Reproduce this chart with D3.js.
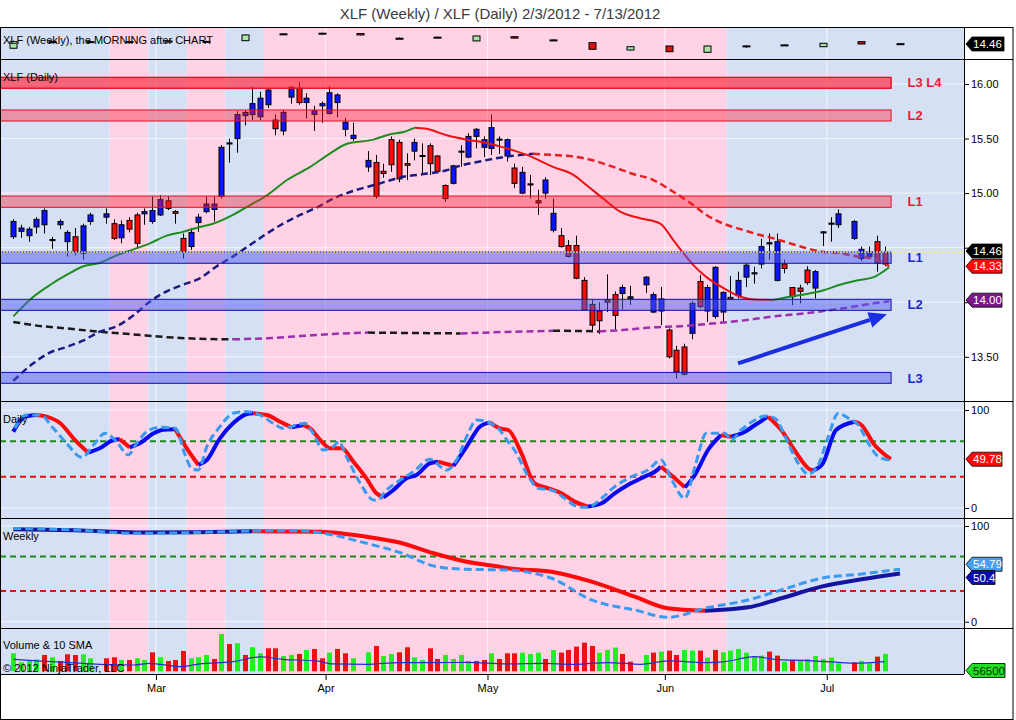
<!DOCTYPE html>
<meta charset="utf-8">
<style type="text/css">
  body { margin: 0; background: #fff; }
  svg text { font-family: "Liberation Sans", Arial, sans-serif; }
  .tick line { stroke: #000; }
  .tick text { font-size: 11px; fill: #000; }
</style>
<body>
</body>
<script src="https://d3js.org/d3.v7.min.js"></script>
<script>
  // XLF weekly / daily chart (NinjaTrader style), 2/3/2012 - 7/13/2012

  var startDate = "2012-02-03", endDate = "2012-07-11";
  var holidays = ["2012-02-20", "2012-04-06", "2012-05-28", "2012-07-04"];
  var monthStarts = ["2012-03-01", "2012-04-02", "2012-05-01", "2012-06-01", "2012-07-02"];

  // daily OHLC, one value per trading day
  var opens = [
    14.60, 14.65, 14.61, 14.69, 14.71, 14.565, 14.71, 14.555, 14.60, 14.45, 14.74,
    14.78, 14.72, 14.59, 14.75, 14.80, 14.81, 14.74, 14.80, 14.93, 14.83, 14.585, 14.51, 14.73, 14.83, 14.85, 14.97,
    15.45, 15.50, 15.71, 15.72, 15.70, 15.81, 15.67, 15.57, 15.88, 15.96, 15.83, 15.72, 15.80, 15.73, 15.83, 15.585, 15.50,
    15.24, 15.28, 15.20, 15.49, 15.465, 15.27, 15.385, 15.335, 15.435, 15.34, 15.07, 15.09, 15.375, 15.33, 15.52, 15.42,
    15.41, 15.485, 15.34, 15.23, 15.00, 15.085, 14.93, 15.00, 14.66, 14.61, 14.52, 14.52, 14.20, 13.98, 13.92, 14.02, 14.07, 14.08, 14.035,
    14.16, 13.91, 13.92, 13.745, 13.56, 13.59, 13.715, 14.19, 13.92, 13.87, 13.91, 14.045, 14.06, 14.23, 14.26, 14.35,
    14.535, 14.20, 14.35, 14.135, 14.13, 14.295, 14.13, 14.635, 14.715, 14.71,
    14.585, 14.40, 14.42, 14.555, 14.455
  ];
  var highs = [
    14.76, 14.71, 14.69, 14.78, 14.86, 14.60, 14.76, 14.66, 14.68, 14.72, 14.82,
    14.86, 14.76, 14.75, 14.78, 14.82, 14.86, 14.97, 14.98, 14.97, 14.845, 14.63, 14.68, 14.81, 14.97, 14.97, 15.44,
    15.50, 15.75, 15.76, 15.975, 15.93, 15.96, 15.72, 15.76, 15.98, 16.02, 15.915, 15.80, 15.84, 15.98, 15.915, 15.69, 15.645,
    15.385, 15.35, 15.27, 15.52, 15.49, 15.365, 15.50, 15.456, 15.456, 15.35, 15.08, 15.26, 15.44, 15.55, 15.595, 15.52,
    15.72, 15.52, 15.50, 15.27, 15.24, 15.166, 15.03, 15.145, 14.95, 14.68, 14.57, 14.61, 14.23, 14.02, 14.00, 14.255, 14.10, 14.16, 14.15,
    14.24, 14.09, 14.14, 13.76, 13.60, 13.62, 14.01, 14.25, 14.16, 14.33, 14.10, 14.24, 14.28, 14.36, 14.325, 14.58,
    14.63, 14.63, 14.39, 14.14, 14.16, 14.33, 14.295, 14.65, 14.78, 14.85,
    14.755, 14.51, 14.51, 14.61, 14.51
  ];
  var lows = [
    14.58, 14.59, 14.555, 14.63, 14.63, 14.49, 14.67, 14.42, 14.43, 14.39, 14.71,
    14.72, 14.57, 14.54, 14.64, 14.49, 14.71, 14.72, 14.79, 14.845, 14.72, 14.40, 14.48, 14.645, 14.815, 14.74, 14.95,
    15.28, 15.37, 15.62, 15.67, 15.67, 15.78, 15.53, 15.53, 15.82, 15.81, 15.685, 15.57, 15.645, 15.72, 15.695, 15.52, 15.48,
    15.195, 14.95, 15.14, 15.195, 15.10, 15.12, 15.30, 15.166, 15.166, 15.19, 14.92, 15.08, 15.24, 15.32, 15.41, 15.33,
    15.35, 15.36, 15.29, 15.045, 14.99, 14.95, 14.80, 14.95, 14.64, 14.50, 14.41, 14.21, 13.93, 13.73, 13.71, 13.91, 13.75, 13.93, 13.975,
    14.085, 13.90, 13.79, 13.485, 13.30, 13.33, 13.66, 13.945, 13.82, 13.85, 13.81, 14.02, 14.035, 14.14, 14.17, 14.31,
    14.39, 14.19, 14.265, 13.975, 13.99, 14.16, 14.035, 14.515, 14.555, 14.68,
    14.57, 14.38, 14.40, 14.28, 14.33
  ];
  var closes = [
    14.74, 14.68, 14.67, 14.76, 14.84, 14.575, 14.74, 14.64, 14.46, 14.70, 14.80,
    14.81, 14.585, 14.71, 14.67, 14.54, 14.83, 14.84, 14.94, 14.86, 14.815, 14.46, 14.64, 14.78, 14.90, 14.90, 15.42,
    15.46, 15.72, 15.74, 15.82, 15.87, 15.945, 15.59, 15.74, 15.97, 15.83, 15.87, 15.755, 15.82, 15.92, 15.90, 15.65, 15.53,
    15.30, 14.97, 15.18, 15.26, 15.13, 15.255, 15.465, 15.345, 15.27, 15.20, 14.95, 15.25, 15.385, 15.52, 15.585, 15.49,
    15.60, 15.495, 15.49, 15.09, 15.19, 15.075, 14.91, 15.12, 14.815, 14.51, 14.42, 14.22, 13.93, 13.79, 13.83, 14.00, 13.88, 14.135, 14.05,
    14.23, 14.07, 14.03, 13.50, 13.36, 13.34, 13.99, 13.96, 14.135, 14.32, 14.09, 14.03, 14.20, 14.34, 14.27, 14.51,
    14.545, 14.555, 14.31, 14.05, 14.10, 14.18, 14.28, 14.645, 14.725, 14.81,
    14.74, 14.485, 14.46, 14.36, 14.35
  ];
  // volume (thousands) and bar colour (1 = green, 0 = red)
  var volumes = [
    58100, 29000, 33400, 38700, 52700, 45200, 33400, 54900, 52700, 54900, 42000,
    42000, 45200, 36600, 36600, 42000, 36600, 61300, 45200, 33400, 36600, 65600, 42000, 45200, 52700, 39800, 120500,
    88200, 90400, 52700, 77500, 58100, 74200, 74200, 49500, 52700, 56000, 68900, 72100, 42000, 60300, 72100, 58100, 42000,
    61300, 81800, 49500, 56000, 61300, 77500, 45200, 36600, 74200, 39800, 52700, 39800, 52700, 33400, 33400, 36600,
    58100, 39800, 58100, 58100, 60300, 55900, 60300, 39800, 68900, 60300, 68900, 79600, 92500, 81800, 60300, 68900, 76400, 55900, 31200,
    52700, 60300, 63500, 66700, 52700, 68900, 66700, 66700, 44100, 68900, 61300, 66700, 72100, 60300, 47300, 50600,
    63500, 50600, 31200, 36600, 36600, 39800, 49500, 39800, 44100, 25800,
    29100, 33400, 25800, 47300, 56500
  ];
  var volumeUp = [
    1, 1, 1, 1, 0, 1, 0, 0, 0, 1, 1,
    0, 0, 1, 0, 1, 1, 0, 1, 0, 0, 0, 1, 1, 1, 0, 1,
    0, 1, 0, 1, 1, 0, 0, 1, 1, 0, 1, 0, 0, 1, 0, 0, 1,
    1, 0, 1, 1, 0, 0, 1, 1, 0, 0, 1, 1, 1, 1, 0, 0,
    1, 0, 0, 0, 1, 1, 1, 0, 1, 0, 0, 0, 0, 0, 1, 1, 1, 0, 0,
    1, 0, 1, 0, 0, 1, 1, 0, 1, 0, 1, 1, 1, 1, 1, 1,
    0, 0, 1, 0, 1, 1, 1, 1, 1, 1,
    0, 1, 1, 0, 1
  ];

  // moving averages: [weekday slot, price]
  var fastMA = [[0, 13.87], [2.6, 14.05], [4.8, 14.16], [6.9, 14.25], [9.1, 14.33], [11.2, 14.36], [13.4, 14.43],
    [15.6, 14.485], [17.7, 14.54], [19.9, 14.61], [22, 14.645], [24.2, 14.69], [25.9, 14.72], [28.5, 14.80], [30.7, 14.89],
    [32.9, 14.98], [35.5, 15.12], [38.5, 15.24], [41.1, 15.365], [43.2, 15.45], [46.7, 15.49], [48.9, 15.54], [50.6, 15.56],
    [52.1, 15.60], [53.6, 15.59], [56.2, 15.53], [58.8, 15.49], [61.4, 15.46], [64, 15.41], [66.6, 15.35], [70, 15.24],
    [72.6, 15.17], [74.4, 15.07], [76.5, 14.95], [78.7, 14.83], [81.3, 14.77], [83.9, 14.72], [85.6, 14.57], [86.9, 14.45],
    [88.2, 14.34], [89.9, 14.23], [92.1, 14.13], [94.3, 14.05], [96, 14.025], [98.6, 14.02], [100.7, 14.05], [102.9, 14.075],
    [105.1, 14.11], [107.2, 14.16], [109.4, 14.20], [111.6, 14.23], [113.6, 14.32]];
  var midMA = [[0, 13.28], [2.6, 13.44], [4.8, 13.54], [6.9, 13.59], [9.1, 13.65], [11.2, 13.73], [13.4, 13.78],
    [15.6, 13.88], [17.7, 14.005], [19.9, 14.10], [22, 14.16], [24.2, 14.22], [26.4, 14.33], [28.5, 14.42], [30.7, 14.525],
    [32.9, 14.63], [35, 14.72], [37.2, 14.80], [39.4, 14.87], [41.5, 14.95], [44.1, 15.02], [47.1, 15.08], [50.6, 15.15],
    [52.7, 15.17], [56.2, 15.21], [57.9, 15.25], [60.5, 15.29], [63.1, 15.325], [65.7, 15.35], [67.4, 15.36], [70, 15.35],
    [72.6, 15.335], [75.2, 15.30], [77.8, 15.24], [80.4, 15.175], [83, 15.12], [85.2, 15.03], [87.8, 14.91], [89.9, 14.80],
    [92.1, 14.72], [94.3, 14.67], [96.4, 14.625], [98.6, 14.585], [100.7, 14.54], [102.9, 14.495], [105.1, 14.46],
    [107.2, 14.45], [109.4, 14.42], [111.6, 14.40], [113.6, 14.33]];
  var slowMA = [[0, 13.82], [2.6, 13.79], [6.9, 13.76], [11.2, 13.73], [15.6, 13.705], [19.9, 13.68], [24.2, 13.665],
    [28.5, 13.66], [32.9, 13.67], [37.2, 13.69], [41.5, 13.71], [46, 13.722], [52, 13.718], [58, 13.714], [64, 13.728],
    [70, 13.738], [73, 13.737], [76, 13.732], [79, 13.745], [83, 13.77], [86.5, 13.78], [89.9, 13.80], [94.3, 13.83],
    [98.6, 13.87], [102.9, 13.90], [107.2, 13.94], [111.6, 13.99], [113.6, 14.01]];

  // support / resistance zones
  var levelNames = ["L3", "L4", "L2", "L1", "L1", "L2", "L3"];
  var levelLow = [15.961, 15.961, 15.661, 14.870, 14.357, 13.926, 13.257];
  var levelHigh = [16.061, 16.061, 15.762, 14.973, 14.460, 14.027, 13.357];
  var levelSide = ["r", "r", "r", "r", "b", "b", "b"];

  var lastClose = 14.46;
  var trendArrow = [[94, 13.44], [113.3, 13.89]];

  // weekly candles (one every five weekday slots)
  var wOpen = [13.85, 14.77, 14.80, 14.78, 14.72, 14.80, 14.93, 15.87, 15.96, 15.96, 15.28, 15.40,
    14.90, 15.50, 15.04, 14.65, 13.60, 14.17, 13.27, 14.16, 14.30, 14.07, 14.79, 14.50];
  var wHigh = [14.95, 14.86, 14.85, 14.86, 14.95, 14.90, 15.82, 15.98, 16.05, 16.00, 15.40, 15.50,
    15.65, 15.55, 15.12, 14.70, 14.12, 14.22, 14.20, 14.25, 14.38, 14.60, 14.85, 14.56];
  var wLow = [13.80, 14.70, 14.72, 14.70, 14.68, 14.74, 14.88, 15.78, 15.90, 15.70, 15.18, 15.32,
    14.85, 15.25, 14.95, 13.65, 13.55, 13.30, 13.22, 13.90, 14.25, 14.03, 14.42, 14.40];
  var wClose = [14.79, 14.80, 14.78, 14.80, 14.90, 14.83, 15.75, 15.91, 16.00, 15.75, 15.25, 15.43,
    15.60, 15.30, 15.01, 13.70, 14.07, 13.36, 14.17, 14.19, 14.33, 14.56, 14.46, 14.46];

  // stochastics: [weekday slot, value]
  var dStochD = [[0, 77.9], [1.5, 93.2], [3, 94.9], [4.3, 93.2], [6.1, 86.4], [7.8, 71.1], [9.7, 56.5], [11.2, 60.9],
    [13, 69.4], [13.8, 70.1], [15.1, 61.9], [16.4, 66], [18.2, 76.2], [19.5, 79.8], [21, 80.3], [22.5, 60.9], [24, 43.9],
    [25.1, 49], [26.8, 71.1], [28.5, 86.4], [30.3, 95.9], [31.1, 96.6], [32.9, 94.9], [34.6, 88], [36.1, 82.3], [37.6, 84.7],
    [38.5, 81.3], [39.8, 69.4], [41.1, 60.9], [42.6, 60.9], [44.1, 47.3], [45.8, 30.3], [47.1, 15], [48, 10.9], [49.3, 18.4],
    [51, 30.3], [52.3, 33.7], [54, 45.6], [55.1, 47.3], [57.1, 42.9], [58.8, 62.6], [60.5, 83], [61.8, 87.4], [63.1, 81.3],
    [64.2, 79.6], [65.9, 55.8], [67.6, 25.2], [69.4, 20.1], [71.1, 15], [72.8, 6.5], [74.5, 1.4], [76.3, 4.8], [78, 15],
    [79.7, 23.5], [81.9, 32], [83.2, 37], [84, 42.2], [85.3, 33.7], [87.1, 21.1], [88.4, 33.7], [90.1, 59.2], [91.8, 74.5],
    [93.1, 72.8], [94.9, 77.9], [96.2, 84.7], [97.9, 93.2], [99.6, 79.6], [101.3, 59.2], [103.1, 40.5], [103.7, 38.1],
    [105, 45.6], [106.7, 79.6], [109.1, 88], [110, 84.7], [111.7, 64.3], [112.8, 55.8], [113.8, 49.78]];
  var dStochK = [[0.2, 81.3], [1.7, 94.9], [3.5, 94.9], [5.2, 81.3], [6.9, 66], [8.9, 51.7], [10.4, 64.3], [11.9, 76.2],
    [13.4, 67.7], [14.9, 54.1], [16, 66], [17.3, 77.9], [19, 82.3], [21, 81.3], [22.3, 54.1], [23.1, 40.5], [24, 38.8],
    [25.1, 62.6], [26.8, 83], [28.5, 96.6], [30.3, 98.3], [32, 94.9], [33.7, 86.4], [35, 81.3], [36.3, 83.7], [37.8, 86.4],
    [38.9, 76.2], [40.2, 59.2], [41.5, 62.6], [42.2, 67.7], [43.2, 52.4], [45, 25.2], [46.7, 8.2], [47.2, 8], [48.4, 18.4],
    [50.2, 28.6], [51.9, 37], [54, 49.7], [56.2, 38.8], [57.5, 49], [58.8, 72.8], [60.1, 89.8], [61.4, 88], [63.1, 79.6],
    [64, 69.4], [65, 59.2], [66.8, 32], [68.1, 20.1], [69.8, 18.4], [71.5, 9.9], [73.2, 1.4], [74.5, 0.7], [76.3, 9.9],
    [78, 21.8], [80.2, 32], [82.3, 38.8], [84, 49], [85.4, 28.6], [87.1, 9.9], [88.4, 42.2], [89.9, 76.2], [92.3, 76.2],
    [93.1, 69.4], [94.4, 79.6], [96.2, 89.8], [97.5, 93.9], [98.8, 91.5], [100.1, 72.8], [101.8, 45.6], [103.1, 34.7],
    [104.4, 43.9], [105.7, 72.8], [107, 96.6], [108.3, 91.5], [109.6, 84.7], [110.9, 66], [112.2, 52.4], [113.6, 49]];
  var wStochD = [[0, 96.5], [8, 95.5], [16, 93.3], [24, 93.6], [31, 94.6], [39.8, 94], [45.8, 88.8], [50.2, 82.5],
    [54.5, 71.5], [58.8, 62.7], [63.1, 57.5], [64.2, 55.8], [69.8, 52.2], [75, 41.8], [80.6, 26.1], [84.9, 14], [89.7, 11.5],
    [95.3, 15], [99.6, 24.5], [104.8, 36.6], [110, 44.3], [115, 50.4]];
  var wStochK = [[0, 97.5], [8, 95.8], [16, 92.4], [24, 93.2], [31, 94.8], [37.2, 95.1], [40.2, 92.4], [45.8, 81.9],
    [50.2, 72.1], [54.9, 57.5], [58.8, 54.8], [64, 54], [69.8, 45.4], [75, 22.7], [80.6, 12.2], [84.9, 4.6], [89.7, 14],
    [95.3, 22.7], [99.6, 33.1], [104.8, 45.4], [110, 49.8], [115, 54.79]];
  var wStochTurns = [[0, "up"], [31, "down"], [89.7, "up"]];
  var stochLevels = [68, 32];

  var volumeSMA = [[0, 38700], [2.6, 34400], [6.9, 29000], [11.2, 22600], [15.6, 20400], [17.7, 25800], [21.6, 15100],
    [24.2, 23700], [28.5, 31200], [32, 46300], [35, 38700], [39.3, 33400], [41.5, 23700], [45.8, 22600], [50.2, 28000],
    [54.5, 28000], [58.8, 29000], [64, 23700], [68.5, 25800], [72.8, 22600], [77.1, 28000], [81.4, 22600], [84.9, 33400],
    [90.1, 28000], [92.3, 31200], [96.1, 47300], [98.7, 38700], [103.1, 34400], [107.4, 28000], [109.1, 25800], [113, 31200]];

  var priceTicks = [13.5, 14, 14.5, 15, 15.5, 16];
  var shadeBreaks = [12.5, 17.5, 22.5, 27.5, 32.5, 92.5];

  // ---------- layout ----------
  var plotRight = 964, frameRight = 1013;
  var panels = {
    week: { top: 27, bottom: 59 },
    main: { top: 59, bottom: 401 },
    dsto: { top: 401, bottom: 518 },
    wsto: { top: 518, bottom: 628 },
    vol: { top: 628, bottom: 674 }
  };
  var pink = "#ffd2e6", blue = "#d6e0f5";

  var x = d3.scaleLinear().domain([-1.725, 123.3]).range([0, plotRight]);
  var yMain = d3.scaleLinear().domain([13.5, 16]).range([356.8, 84]);
  var yWeek = d3.scaleLinear().domain([13.5, 16]).range([50.7, 33.2]);
  var yDS = d3.scaleLinear().domain([0, 100]).range([508, 410]);
  var yWS = d3.scaleLinear().domain([0, 100]).range([621.7, 526]);
  var yVol = d3.scaleLinear().domain([0, 100000]).range([671.3, 640.3]);

  // weekday slots
  var parse = d3.timeParse("%Y-%m-%d"), fmt = d3.timeFormat("%Y-%m-%d");
  var weekdays = d3.timeDay.range(parse(startDate), d3.timeDay.offset(parse(endDate), 1))
    .filter(function(d) { return d.getDay() > 0 && d.getDay() < 6; });
  var slotOf = {};
  weekdays.forEach(function(d, i) { slotOf[fmt(d)] = i; });
  var tradingSlots = weekdays.map(function(d, i) { return i; })
    .filter(function(i) { return holidays.indexOf(fmt(weekdays[i])) < 0; });

  var candles = tradingSlots.map(function(s, i) {
    return { slot: s, o: opens[i], h: highs[i], l: lows[i], c: closes[i], v: volumes[i], up: volumeUp[i] };
  });
  var weekly = wOpen.map(function(o, i) {
    return { slot: i * 5, o: o, h: wHigh[i], l: wLow[i], c: wClose[i] };
  });
  var monthTicks = monthStarts.map(function(d) {
    return { slot: slotOf[d] - 0.5, label: d3.timeFormat("%b")(parse(d)) };
  });

  var svg = d3.select("body").append("svg")
    .attr("width", 1016)
    .attr("height", 720);
  var defs = svg.append("defs");

  // title
  svg.append("text")
    .attr("x", 500).attr("y", 19)
    .attr("text-anchor", "middle")
    .style("font-size", "15px")
    .attr("fill", "#3a3a3a")
    .text("XLF (Weekly) / XLF (Daily)  2/3/2012 - 7/13/2012");

  var edges = [x.domain()[0]].concat(shadeBreaks, [x.domain()[1]]);
  var shadeSpans = d3.pairs(edges).map(function(p, i) {
    return { a: p[0], b: p[1], fill: i % 2 ? pink : blue };
  });

  function makePanel(name) {
    var p = panels[name];
    defs.append("clipPath").attr("id", "clip-" + name)
      .append("rect").attr("x", 0).attr("y", p.top).attr("width", plotRight).attr("height", p.bottom - p.top);
    var g = svg.append("g").attr("clip-path", "url(#clip-" + name + ")");
    g.selectAll(".shade").data(shadeSpans).join("rect")
      .attr("x", function(d) { return x(d.a); })
      .attr("width", function(d) { return x(d.b) - x(d.a); })
      .attr("y", p.top).attr("height", p.bottom - p.top)
      .attr("fill", function(d) { return d.fill; });
    g.selectAll(".vgrid").data(monthTicks).join("line")
      .attr("x1", function(d) { return x(d.slot); })
      .attr("x2", function(d) { return x(d.slot); })
      .attr("y1", p.top).attr("y2", p.bottom)
      .attr("stroke", "#fff").attr("stroke-opacity", 0.7);
    return g;
  }

  function hgrid(g, ticks, y) {
    g.selectAll(null).data(ticks).join("line")
      .attr("x1", 0).attr("x2", plotRight)
      .attr("y1", function(d) { return y(d); })
      .attr("y2", function(d) { return y(d); })
      .attr("stroke", "#fff").attr("stroke-opacity", 0.7);
  }

  // split a series into runs of the same colour
  function colourRuns(pts, colourOf) {
    var out = [];
    for (var i = 1; i < pts.length; i++) {
      var c = colourOf(pts[i - 1], pts[i]);
      var last = out[out.length - 1];
      if (last && last.colour === c) last.pts.push(pts[i]);
      else out.push({ colour: c, pts: [pts[i - 1], pts[i]] });
    }
    return out;
  }

  function drawRuns(g, runs, y, width, dash) {
    var line = d3.line()
      .x(function(d) { return x(d[0]); })
      .y(function(d) { return y(d[1]); })
      .curve(d3.curveMonotoneX);
    g.selectAll(null).data(runs).join("path")
      .attr("d", function(d) { return line(d.pts); })
      .attr("fill", "none")
      .attr("stroke", function(d) { return d.colour; })
      .attr("stroke-width", width)
      .attr("stroke-dasharray", dash || null)
      .attr("stroke-linejoin", "round");
  }

  function bySlope(up, down) {
    return function(a, b) { return b[1] > a[1] ? up : down; };
  }

  function drawCandles(g, data, y, w, upFill, downFill) {
    var c = g.selectAll(null).data(data).join("g");
    c.append("line")
      .attr("x1", function(d) { return Math.round(x(d.slot)) + 0.5; })
      .attr("x2", function(d) { return Math.round(x(d.slot)) + 0.5; })
      .attr("y1", function(d) { return y(d.h); })
      .attr("y2", function(d) { return y(d.l); })
      .attr("stroke", "#000");
    c.append("rect")
      .attr("x", function(d) { return Math.round(x(d.slot)) + 0.5 - w / 2; })
      .attr("width", w)
      .attr("y", function(d) { return y(Math.max(d.o, d.c)); })
      .attr("height", function(d) { return Math.max(1, Math.abs(y(d.o) - y(d.c))); })
      .attr("fill", function(d) { return d.c >= d.o ? upFill : downFill; })
      .attr("stroke", "#000").attr("stroke-width", 1);
  }

  // ---------- weekly panel ----------
  var gw = makePanel("week");
  drawCandles(gw, weekly, yWeek, 7, "#a8e6a8", "#e01010");

  // ---------- main daily panel ----------
  var gm = makePanel("main");
  hgrid(gm, priceTicks, yMain);
  drawCandles(gm, candles, yMain, 5, "#0a14ff", "#ff0a0a");

  drawRuns(gm, colourRuns(slowMA, bySlope("#9b2fae", "#1a1a1a")), yMain, 2.5, "7,4");
  drawRuns(gm, colourRuns(midMA, bySlope("#1a1a80", "#e52020")), yMain, 2.5, "7,4");
  drawRuns(gm, colourRuns(fastMA, bySlope("#1e8c1e", "#ee1111")), yMain, 2);

  var levels = levelNames.map(function(n, i) {
    return { name: n, lo: levelLow[i], hi: levelHigh[i], side: levelSide[i] };
  });
  var lastSlot = tradingSlots[tradingSlots.length - 1];
  var bandEnd = x(lastSlot) + 6;
  gm.selectAll(".band").data(levels).join("rect")
    .attr("x", 0.5)
    .attr("width", bandEnd)
    .attr("y", function(d) { return yMain(d.hi); })
    .attr("height", function(d) { return yMain(d.lo) - yMain(d.hi); })
    .attr("fill", function(d) { return d.side === "r" ? "rgba(255,30,50,0.4)" : "rgba(80,90,240,0.5)"; })
    .attr("stroke", function(d) { return d.side === "r" ? "#e01020" : "#1010b0"; });

  var labelGroups = Array.from(d3.group(levels, function(d) { return d.side + d.lo; }).values());
  gm.selectAll(".blabel").data(labelGroups).join("text")
    .attr("x", bandEnd + 17)
    .attr("y", function(d) { return yMain((d[0].lo + d[0].hi) / 2); })
    .attr("dy", "0.36em")
    .style("font-size", "13px").style("font-weight", "bold")
    .attr("fill", function(d) { return d[0].side === "r" ? "#e8202e" : "#2028c8"; })
    .text(function(d) { return d.map(function(e) { return e.name; }).join(" "); });

  gm.append("line")
    .attr("x1", 0).attr("x2", plotRight)
    .attr("y1", yMain(lastClose)).attr("y2", yMain(lastClose))
    .attr("stroke", "#f4f070").attr("stroke-width", 1.2).attr("stroke-dasharray", "2,1");

  // trend arrow
  var a0 = [x(trendArrow[0][0]), yMain(trendArrow[0][1])];
  var a1 = [x(trendArrow[1][0]), yMain(trendArrow[1][1])];
  var ang = Math.atan2(a1[1] - a0[1], a1[0] - a0[0]);
  var base = [a1[0] - 18 * Math.cos(ang), a1[1] - 18 * Math.sin(ang)];
  var nx = -Math.sin(ang) * 8, ny = Math.cos(ang) * 8;
  gm.append("line")
    .attr("x1", a0[0]).attr("y1", a0[1]).attr("x2", base[0]).attr("y2", base[1])
    .attr("stroke", "#1b2fe0").attr("stroke-width", 4);
  gm.append("path")
    .attr("d", "M" + a1 + "L" + [base[0] + nx, base[1] + ny] + "L" + [base[0] - nx, base[1] - ny] + "Z")
    .attr("fill", "#1b2fe0");

  // ---------- daily stochastic ----------
  var gd = makePanel("dsto");
  hgrid(gd, [0, 100], yDS);
  gd.selectAll(null).data(stochLevels).join("line")
    .attr("x1", 0).attr("x2", plotRight)
    .attr("y1", function(d) { return yDS(d); }).attr("y2", function(d) { return yDS(d); })
    .attr("stroke", function(d, i) { return i ? "#dd1111" : "#1a8a1a"; })
    .attr("stroke-width", 2).attr("stroke-dasharray", "6,4");
  drawRuns(gd, colourRuns(dStochD, bySlope("#0a0af0", "#ff0a0a")), yDS, 4);
  drawRuns(gd, [{ colour: "#3a9af0", pts: dStochK }], yDS, 3, "8,4");

  // ---------- weekly stochastic ----------
  var gs = makePanel("wsto");
  hgrid(gs, [0, 100], yWS);
  gs.selectAll(null).data(stochLevels).join("line")
    .attr("x1", 0).attr("x2", plotRight)
    .attr("y1", function(d) { return yWS(d); }).attr("y2", function(d) { return yWS(d); })
    .attr("stroke", function(d, i) { return i ? "#dd1111" : "#1a8a1a"; })
    .attr("stroke-width", 2).attr("stroke-dasharray", "6,4");
  function weeklyTrend(a) {
    var t = "up";
    wStochTurns.forEach(function(w) { if (a[0] >= w[0]) t = w[1]; });
    return t;
  }
  drawRuns(gs, colourRuns(wStochD, function(a) { return weeklyTrend(a) === "up" ? "#1414a0" : "#ff0a0a"; }), yWS, 4);
  drawRuns(gs, [{ colour: "#3a9af0", pts: wStochK }], yWS, 3, "8,4");

  // ---------- volume ----------
  var gv = makePanel("vol");
  gv.selectAll(null).data(candles).join("rect")
    .attr("x", function(d) { return Math.round(x(d.slot)) - 2; })
    .attr("width", 5)
    .attr("y", function(d) { return yVol(d.v); })
    .attr("height", function(d) { return yVol(0) - yVol(d.v); })
    .attr("fill", function(d) { return d.up ? "#22ee22" : "#ee1111"; });
  gv.append("path")
    .attr("d", d3.line().x(function(d) { return x(d[0]); }).y(function(d) { return yVol(d[1]); }).curve(d3.curveMonotoneX)(volumeSMA))
    .attr("fill", "none").attr("stroke", "#2a2ad0").attr("stroke-width", 1.2);

  // ---------- panel captions ----------
  var captions = [
    ["XLF (Weekly), the MORNING after CHART", 44],
    ["XLF (Daily)", 81],
    ["Daily", 423],
    ["Weekly", 540],
    ["Volume & 10 SMA", 649],
    ["\u00a9 2012 NinjaTrader, LLC", 672]
  ];
  svg.selectAll(".cap").data(captions).join("text")
    .attr("x", 3).attr("y", function(d) { return d[1]; })
    .style("font-size", "11px").attr("fill", "#000")
    .text(function(d) { return d[0]; });

  // ---------- value tags (the price labels they cover are left blank) ----------
  var lastD = dStochD[dStochD.length - 1][1];
  var lastWK = wStochK[wStochK.length - 1][1];
  var lastWD = wStochD[wStochD.length - 1][1];
  var lastMid = midMA[midMA.length - 1][1];
  var lastSlow = slowMA[slowMA.length - 1][1];
  var mainTags = [yMain(lastClose) - 1, yMain(lastMid), yMain(lastSlow)];

  // ---------- axes ----------
  var f2 = d3.format(".2f");
  svg.append("g").attr("transform", "translate(" + plotRight + ",0)")
    .call(d3.axisRight(yMain).tickValues(priceTicks).tickSize(5).tickPadding(2)
      .tickFormat(function(d) {
        var hidden = mainTags.some(function(t) { return Math.abs(t - yMain(d)) < 8; });
        return hidden ? "" : f2(d);
      }))
    .call(function(g) { g.select(".domain").remove(); });
  svg.append("g").attr("transform", "translate(" + plotRight + ",0)")
    .call(d3.axisRight(yDS).tickValues([0, 100]).tickSize(5).tickPadding(2))
    .call(function(g) { g.select(".domain").remove(); });
  svg.append("g").attr("transform", "translate(" + plotRight + ",0)")
    .call(d3.axisRight(yWS).tickValues([0, 100]).tickSize(5).tickPadding(2))
    .call(function(g) { g.select(".domain").remove(); });
  svg.append("g").attr("transform", "translate(0," + panels.vol.bottom + ")")
    .call(d3.axisBottom(x).tickValues(monthTicks.map(function(d) { return d.slot; }))
      .tickFormat(function(d, i) { return monthTicks[i].label; }).tickSize(6).tickPadding(4))
    .call(function(g) { g.select(".domain").remove(); });

  // ---------- frame ----------
  var frame = svg.append("g").attr("stroke", "#000").attr("stroke-width", 1);
  [panels.week.top, panels.main.top, panels.dsto.top, panels.wsto.top, panels.vol.top].forEach(function(y) {
    frame.append("line").attr("x1", 0).attr("x2", frameRight).attr("y1", y + 0.5).attr("y2", y + 0.5);
  });
  frame.append("line").attr("x1", 0).attr("x2", plotRight).attr("y1", panels.vol.bottom + 0.5).attr("y2", panels.vol.bottom + 0.5);
  frame.append("line").attr("x1", plotRight + 0.5).attr("x2", plotRight + 0.5).attr("y1", panels.week.top).attr("y2", panels.vol.bottom);
  frame.append("rect").attr("x", 0.5).attr("y", panels.week.top + 0.5)
    .attr("width", frameRight - 0.5).attr("height", 719 - panels.week.top).attr("fill", "none");

  function tag(y, txt, fill, ink, w) {
    var g = svg.append("g");
    g.append("path")
      .attr("d", "M966," + y + "L972," + (y - 7) + "L" + (966 + w) + "," + (y - 7) + "L" + (966 + w) + "," + (y + 7) + "L972," + (y + 7) + "Z")
      .attr("fill", fill).attr("stroke", "#000").attr("stroke-width", 0.8);
    g.append("text").attr("x", 973).attr("y", y).attr("dy", "0.36em")
      .style("font-size", "11.5px").attr("fill", ink).text(txt);
  }
  tag(yWeek(lastClose), f2(lastClose), "#000", "#fff", 38);
  tag(mainTags[0], f2(lastClose), "#000", "#fff", 36);
  tag(mainTags[1], f2(lastMid), "#ff0a0a", "#fff", 36);
  tag(mainTags[2] - 1, f2(lastSlow - 0.01), "#7a1a8a", "#fff", 36);
  tag(yDS(lastD), f2(lastD), "#ff0a0a", "#fff", 36);
  // the two weekly tags sit on top of each other in the original; spread them just enough to stay readable
  tag(yWS(lastWK) - 5, f2(lastWK), "#4aa0f0", "#fff", 36);
  tag(yWS(lastWD) + 4, String(lastWD), "#0a0ab0", "#fff", 29);
  tag(panels.vol.bottom - 3.5, String(volumes[volumes.length - 1]), "#22dd22", "#063006", 39);
</script>
